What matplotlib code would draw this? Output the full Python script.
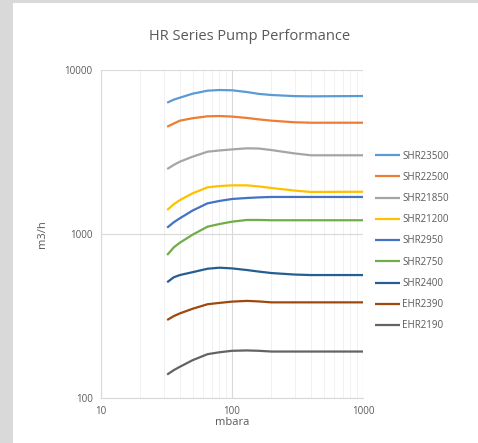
import numpy as np
import matplotlib.pyplot as plt
from matplotlib.patches import Rectangle

# pressure points (mbara)
pressure = [32, 36, 40, 50, 65, 80, 100, 130, 160, 200, 300, 400, 1000]

series_names = ['SHR23500', 'SHR22500', 'SHR21850', 'SHR21200', 'SHR2950',
                'SHR2750', 'SHR2400', 'EHR2390', 'EHR2190']

# pumping speed (m3/h)
shr23500 = [6320, 6600, 6780, 7170, 7480, 7550, 7520, 7340, 7150, 7040, 6930, 6910, 6940]
shr22500 = [4510, 4720, 4910, 5080, 5220, 5240, 5200, 5100, 5000, 4910, 4800, 4770, 4770]
shr21850 = [2490, 2640, 2760, 2960, 3175, 3230, 3280, 3330, 3320, 3250, 3100, 3020, 3020]
shr21200 = [1400, 1520, 1610, 1770, 1925, 1960, 1980, 1980, 1950, 1908, 1840, 1805, 1810]
shr2950 = [1093, 1180, 1247, 1390, 1538, 1590, 1635, 1658, 1672, 1682, 1682, 1682, 1682]
shr2750 = [745, 830, 885, 990, 1108, 1150, 1189, 1218, 1218, 1213, 1213, 1213, 1213]
shr2400 = [508, 545, 562, 585, 614, 623, 617, 603, 590, 578, 566, 562, 562]
ehr2390 = [299, 316, 328, 350, 373, 380, 387, 391, 388, 383, 383, 383, 383]
ehr2190 = [139, 148, 155, 170, 185, 190, 194, 195, 194, 192, 192, 192, 192]

values = [shr23500, shr22500, shr21850, shr21200, shr2950,
          shr2750, shr2400, ehr2390, ehr2190]
colors = ['#5B9BD5', '#ED7D31', '#A5A5A5', '#FFC000', '#4472C4',
          '#70AD47', '#255E91', '#9E480E', '#636363']

plt.rcParams['font.family'] = ['Open Sans', 'DejaVu Sans']

fig = plt.figure(figsize=(4.78, 4.43), dpi=100)
fig.patch.set_facecolor('#D9D9D9')
# white chart area inside the gray frame
fig.patches.append(Rectangle((13 / 478, 0), 1, 1 - 3 / 443, transform=fig.transFigure,
                             facecolor='white', edgecolor='none', zorder=-5))

ax = fig.add_axes([101 / 478, 1 - 398 / 443, 262 / 478, 328 / 443])
ax.set_facecolor('white')

for name, v, c in zip(series_names, values, colors):
    ax.plot(pressure, v, color=c, lw=1.6, label=name, solid_capstyle='butt',
            solid_joinstyle='round')

ax.set_xscale('log')
ax.set_yscale('log')
ax.set_xlim(10, 1000)
ax.set_ylim(100, 10000)

ax.grid(True, which='major', color='#D9D9D9', lw=0.8)
ax.grid(True, which='minor', axis='x', color='#EFEFEF', lw=0.6)
ax.set_axisbelow(True)
for s in ['top', 'right']:
    ax.spines[s].set_visible(False)
for s in ['left', 'bottom']:
    ax.spines[s].set_color('#D9D9D9')
ax.tick_params(which='both', length=0, colors='#595959', labelsize=7, pad=6)
ax.set_xticks([10, 100, 1000])
ax.set_xticklabels(['10', '100', '1000'])
ax.set_yticks([100, 1000, 10000])
ax.set_yticklabels(['100', '1000', '10000'])

ax.set_xlabel('mbara', color='#595959', fontsize=8, labelpad=0)
ax.set_ylabel('m3/h', color='#595959', fontsize=8, labelpad=12)

fig.text(250 / 478, 1 - 37 / 443, 'HR Series Pump Performance', ha='center', va='center',
         color='#595959', fontsize=10.5)

fig.legend(loc='center left', bbox_to_anchor=(370 / 478, 1 - 241 / 443),
           frameon=False, fontsize=7, handlelength=2.6, handletextpad=0.2,
           labelspacing=1.05, labelcolor='#595959', borderpad=0)

fig.savefig('out.png', dpi=100, facecolor=fig.get_facecolor())
